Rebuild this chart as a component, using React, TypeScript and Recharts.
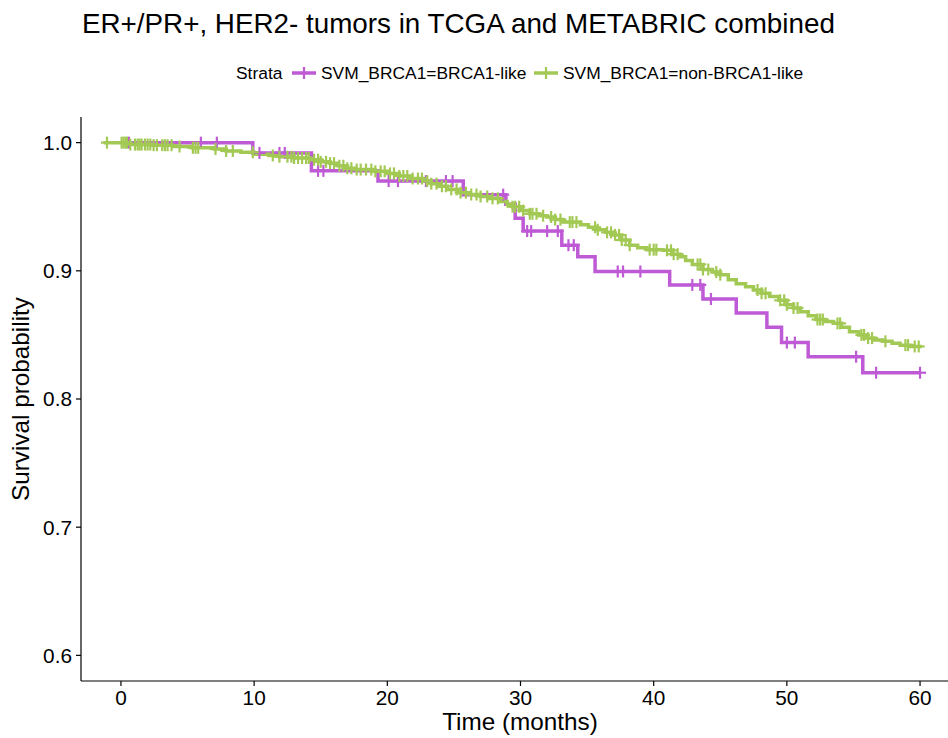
import React from 'react';
import { ComposedChart, Line, Scatter, XAxis, YAxis } from 'recharts';

const chartTitle = 'ER+/PR+, HER2- tumors in TCGA and METABRIC combined';
const legendTitle = 'Strata';
const seriesNames = ['SVM_BRCA1=BRCA1-like', 'SVM_BRCA1=non-BRCA1-like'];
const seriesColors = ['#BF5AD6', '#A3C955'];
const xAxisTitle = 'Time (months)';
const yAxisTitle = 'Survival probability';
const xTicks = [0, 10, 20, 30, 40, 50, 60];
const yTicks = [0.6, 0.7, 0.8, 0.9, 1.0];

// Kaplan-Meier steps [time, survival] — BRCA1-like
const brcaSteps: [number, number][] = [
  [0, 1.0], [9.9, 0.992], [14.3, 0.978], [19.3, 0.970], [25.7, 0.9594],
  [28.9, 0.952], [29.6, 0.941], [30.2, 0.931], [33.1, 0.920], [34.3, 0.911],
  [35.6, 0.8995], [41.2, 0.889], [43.7, 0.878], [46.2, 0.867], [48.5, 0.856],
  [49.6, 0.844], [51.6, 0.833], [55.7, 0.8205], [60.0, 0.8205],
];
const brcaCensorTimes = [
  0.6, 6.0, 7.2, 10.4, 11.9, 12.3, 14.8, 15.2, 20.1, 20.8, 22.9, 24.4, 24.9,
  28.7, 30.5, 30.8, 32.0, 32.8, 33.6, 34.0, 37.3, 37.7, 39.0, 42.9, 43.5, 44.3,
  50.0, 50.6, 55.2, 56.7, 60.0,
];

// Kaplan-Meier steps [time, survival] — non-BRCA1-like
const nonBrcaSteps: [number, number][] = [
  [-1.3, 1.0], [0.6, 0.9985], [2.4, 0.998], [3.9, 0.997], [5.3, 0.996],
  [7.0, 0.995], [7.9, 0.9935], [9.0, 0.9925], [10.0, 0.991], [11.1, 0.99],
  [11.9, 0.989], [13.0, 0.988], [14.2, 0.9867], [15.0, 0.985], [15.7, 0.984],
  [16.3, 0.982], [16.8, 0.98], [17.6, 0.979], [18.9, 0.9776], [20.0, 0.976],
  [20.9, 0.974], [21.8, 0.972], [22.7, 0.97], [23.3, 0.968], [23.9, 0.966],
  [24.5, 0.9635], [25.3, 0.961], [26.2, 0.9595], [27.0, 0.958], [27.7, 0.9565],
  [28.5, 0.954], [29.0, 0.952], [29.4, 0.95], [30.0, 0.947], [30.7, 0.9445],
  [31.4, 0.943], [32.0, 0.942], [32.6, 0.94], [33.2, 0.938], [34.5, 0.936],
  [35.1, 0.934], [35.7, 0.932], [36.4, 0.93], [37.0, 0.928], [37.6, 0.924],
  [38.2, 0.92], [38.8, 0.918], [39.5, 0.9165], [40.7, 0.916], [41.4, 0.913],
  [42.0, 0.911], [42.4, 0.908], [42.9, 0.905], [43.7, 0.901], [44.4, 0.899],
  [45.0, 0.897], [45.6, 0.893], [46.2, 0.89], [46.9, 0.8875], [47.5, 0.885],
  [48.1, 0.8825], [48.7, 0.88], [49.4, 0.877], [50.0, 0.8735], [50.5, 0.871],
  [51.0, 0.868], [51.6, 0.865], [52.2, 0.862], [52.9, 0.8605], [53.5, 0.859],
  [54.1, 0.856], [54.7, 0.8525], [55.4, 0.85], [56.0, 0.8475], [56.6, 0.846],
  [57.2, 0.845], [57.9, 0.8435], [58.5, 0.842], [59.3, 0.841], [60.0, 0.8395],
];
const nonBrcaCensorTimes = [
  -1.05, 0.05, 0.2, 0.35, 0.45, 0.7, 1.05, 1.25, 1.4, 1.55, 1.8, 2.0, 2.2, 2.45,
  2.7, 3.1, 3.3, 3.5, 3.8, 4.4, 5.4, 5.6, 5.8, 7.1, 7.9, 8.4, 9.9, 11.4, 11.9,
  12.5, 12.8, 13.0, 13.3, 13.6, 13.9, 14.1, 14.5, 14.8, 15.0, 15.4, 15.7, 16.0,
  16.4, 16.7, 17.0, 17.3, 17.7, 18.0, 18.4, 18.8, 19.1, 19.5, 19.8, 20.2, 20.5,
  20.9, 21.2, 21.5, 21.9, 22.3, 22.6, 23.0, 23.3, 23.7, 24.1, 24.4, 24.8, 25.2,
  25.5, 25.9, 26.3, 26.7, 27.0, 27.5, 27.9, 28.3, 29.4, 29.6, 29.9, 30.2, 30.7,
  30.9, 31.2, 31.7, 32.3, 32.6, 33.0, 33.7, 33.9, 34.2, 35.6, 35.8, 36.5, 36.8,
  37.1, 37.4, 37.6, 37.9, 38.2, 39.7, 40.0, 40.2, 41.0, 41.3, 41.5, 41.8, 43.3,
  43.5, 43.7, 44.1, 44.7, 45.0, 47.8, 48.1, 48.4, 49.5, 49.8, 50.0, 50.5, 50.8,
  52.3, 52.5, 52.7, 53.8, 54.0, 55.6, 55.8, 56.1, 56.4, 57.4, 58.9, 59.1, 59.6,
  59.9,
];

const toRows = (steps: [number, number][]) => steps.map(([t, s]) => ({ t, s }));
const survAt = (steps: [number, number][], time: number) => {
  let v = steps[0][1];
  for (const [t, s] of steps) {
    if (t <= time) v = s;
  }
  return v;
};
const censorRows = (steps: [number, number][], times: number[]) =>
  times.map((t) => ({ t, s: survAt(steps, t) }));

const brcaLine = toRows(brcaSteps);
const nonBrcaLine = toRows(nonBrcaSteps);
const brcaCensor = censorRows(brcaSteps, brcaCensorTimes);
const nonBrcaCensor = censorRows(nonBrcaSteps, nonBrcaCensorTimes);

const FONT = '"Liberation Sans", Arial, Helvetica, sans-serif';

const plusShape = (color: string) => (props: any) => {
  const { cx, cy } = props;
  if (cx == null || cy == null) return <g />;
  return (
    <g>
      <line x1={cx - 6} x2={cx + 6} y1={cy} y2={cy} stroke={color} strokeWidth={2.2} />
      <line x1={cx} x2={cx} y1={cy - 6} y2={cy + 6} stroke={color} strokeWidth={2.2} />
    </g>
  );
};

export default function App() {
  return (
    <div
      style={{
        position: 'absolute',
        left: 0,
        top: 0,
        width: 948,
        height: 738,
        overflow: 'hidden',
        background: '#fff',
        fontFamily: FONT,
      }}
    >
      <ComposedChart
        width={1000}
        height={738}
        margin={{ top: 117, right: 40, left: 0, bottom: 0 }}
      >
        <XAxis
          type="number"
          dataKey="t"
          domain={[-3, 63]}
          ticks={xTicks}
          allowDataOverflow
          height={57}
          tickSize={5}
          tickMargin={4}
          stroke="#000"
          strokeWidth={1.2}
          tick={{ fill: '#000', fontSize: 20.8, fontFamily: FONT }}
          tickLine={{ stroke: '#000', strokeWidth: 1.2 }}
        />
        <YAxis
          type="number"
          dataKey="s"
          domain={[0.58, 1.02]}
          ticks={yTicks}
          allowDataOverflow
          width={81}
          tickSize={5}
          tickMargin={4}
          stroke="#000"
          strokeWidth={1.2}
          tickFormatter={(v: number) => v.toFixed(1)}
          tick={{ fill: '#000', fontSize: 20.8, fontFamily: FONT }}
          tickLine={{ stroke: '#000', strokeWidth: 1.2 }}
        />
        <Line
          data={brcaLine}
          dataKey="s"
          type="stepAfter"
          stroke={seriesColors[0]}
          strokeWidth={3.5}
          dot={false}
          activeDot={false}
          isAnimationActive={false}
        />
        <Line
          data={nonBrcaLine}
          dataKey="s"
          type="stepAfter"
          stroke={seriesColors[1]}
          strokeWidth={3.5}
          dot={false}
          activeDot={false}
          isAnimationActive={false}
        />
        <Scatter
          data={brcaCensor}
          dataKey="s"
          shape={plusShape(seriesColors[0])}
          isAnimationActive={false}
        />
        <Scatter
          data={nonBrcaCensor}
          dataKey="s"
          shape={plusShape(seriesColors[1])}
          isAnimationActive={false}
        />
      </ComposedChart>
      <svg
        width={948}
        height={738}
        style={{ position: 'absolute', left: 0, top: 0, pointerEvents: 'none' }}
      >
        <text x={82} y={33} fontSize={27.8} fontFamily={FONT} fill="#000">
          {chartTitle}
        </text>
        <text x={236} y={79} fontSize={17.4} fontFamily={FONT} fill="#000">
          {legendTitle}
        </text>
        <line x1={292} x2={316} y1={73} y2={73} stroke={seriesColors[0]} strokeWidth={3.5} />
        <line x1={304} x2={304} y1={67} y2={79} stroke={seriesColors[0]} strokeWidth={2.2} />
        <text x={321} y={79} fontSize={17.4} fontFamily={FONT} fill="#000">
          {seriesNames[0]}
        </text>
        <line x1={534} x2={558} y1={73} y2={73} stroke={seriesColors[1]} strokeWidth={3.5} />
        <line x1={546} x2={546} y1={67} y2={79} stroke={seriesColors[1]} strokeWidth={2.2} />
        <text x={563} y={79} fontSize={17.4} fontFamily={FONT} fill="#000">
          {seriesNames[1]}
        </text>
        <text x={520} y={730} fontSize={24.3} fontFamily={FONT} fill="#000" textAnchor="middle">
          {xAxisTitle}
        </text>
        <text
          x={0}
          y={0}
          fontSize={24.3}
          fontFamily={FONT}
          fill="#000"
          textAnchor="middle"
          transform="translate(29 399) rotate(-90)"
        >
          {yAxisTitle}
        </text>
      </svg>
    </div>
  );
}
